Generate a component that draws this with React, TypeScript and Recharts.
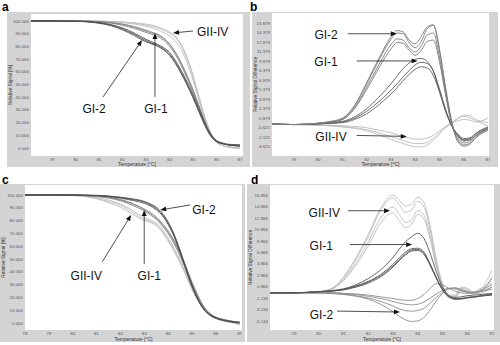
import React from 'react'
import { LineChart, Line, XAxis, YAxis, CartesianGrid, ReferenceLine } from 'recharts'

const FONT = '"Liberation Sans", Arial, sans-serif'
const PANEL_BG = '#d4d4d4'

// sample temperatures (°C), shared by all four panels
const TEMPS = [78, 79, 80, 80.5, 81, 81.5, 82, 82.5, 83, 83.25, 83.5, 83.75, 84, 84.25, 84.5, 84.75, 85, 85.25, 85.5, 85.75, 86, 86.25, 86.5, 87]

const X_TICKS_AB = [79, 80, 81, 82, 83, 84, 85, 86, 87]
const X_TICKS_C = [78, 79, 80, 81, 82, 83, 84, 85, 86, 87]
const X_TICKS_D = [79, 80, 81, 82, 83, 84, 85, 86, 87]
const PCT_TICKS = [0, 10, 20, 30, 40, 50, 60, 70, 80, 90, 100]
const DIFF_TICKS_B = [-3.621, -2.121, -0.621, 0.879, 2.379, 3.879, 5.379, 6.879, 8.379, 9.879, 11.379, 12.879, 14.379, 15.879]
const DIFF_TICKS_D = [-5.134, -3.134, -1.134, 0.866, 2.866, 4.866, 6.866, 8.866, 10.866, 12.866, 14.866, 16.866]

// panel a - melting curves (relative signal %)
const A_GI2_1 = [100, 100, 99.8, 99.4, 98.5, 96.8, 93.8, 89.5, 84.5, 82.5, 80.8, 78, 74, 67.5, 59.5, 50.5, 40.5, 29.5, 18.5, 9.8, 5.3, 3.5, 2.5, 1.5]
const A_GI2_2 = [100, 100, 99.8, 99.3, 98.2, 96.3, 93, 88.5, 83.5, 81.8, 80, 77.2, 73, 66.5, 58.5, 49.5, 39.5, 28.5, 18, 9.5, 5, 3.5, 2.5, 2]
const A_GI2_3 = [100, 100, 99.9, 99.5, 98.7, 97.2, 94.5, 90.5, 85.5, 83.5, 81.5, 79, 75.2, 69, 61, 52, 42, 31, 20, 11, 6, 4, 3, 2.5]
const A_GI1_1 = [100, 100, 100, 99.8, 99.4, 98.6, 97.2, 95, 92, 90.5, 89, 86, 81.5, 75, 66.5, 56.5, 45.5, 33.5, 21, 11, 5.5, 3.5, 2.5, 1.5]
const A_GI1_2 = [100, 100, 100, 99.8, 99.3, 98.3, 96.6, 94.2, 91, 89.5, 87.8, 84.8, 80, 73.5, 65, 55, 44, 32, 20, 10.5, 5, 3.5, 2.5, 2]
const A_GI1_3 = [100, 100, 100, 99.9, 99.5, 98.8, 97.6, 95.6, 92.8, 91.2, 89.6, 86.6, 82, 75.5, 67, 57, 46, 33.5, 20.5, 11, 5.5, 3.5, 2.5, 1.5]
const A_GII_1 = [100, 100, 100, 100, 99.8, 99.5, 99, 98.2, 96.8, 95.8, 94.5, 92.6, 90.5, 87, 80.5, 70, 56, 39.5, 24, 12, 5, 2, 1, 0]
const A_GII_2 = [100, 100, 100, 100, 99.9, 99.6, 99.2, 98.6, 97.6, 96.8, 95.5, 93.8, 91.5, 88, 81.5, 71.5, 57.5, 41, 25, 12.5, 5, 2, 0.5, -0.5]
const A_GII_3 = [100, 100, 100, 100, 99.8, 99.4, 98.7, 97.6, 95.8, 94.6, 92.8, 90.8, 88.2, 84, 77.5, 67, 53.5, 38, 23, 11.5, 4.5, 2, 1, 0.5]

// panel b - difference plots
const B_GI2_1 = [0, -0.1, 0.1, 0.3, 0.8, 2.8, 6.3, 10, 13.3, 14.3, 14.2, 12.8, 12, 13, 15, 15.5, 11.5, 5.5, 0.3, -2.5, -3.3, -3, -2, -0.8]
const B_GI2_2 = [0, -0.1, 0.1, 0.3, 0.7, 2.5, 5.8, 9.3, 12.5, 13.4, 13.2, 12, 11.3, 12.3, 14, 14.3, 10.5, 5, 0, -2.3, -3, -2.7, -1.8, -0.6]
const B_GI2_3 = [0, -0.1, 0.1, 0.3, 0.7, 2.4, 5.4, 8.8, 11.8, 12.8, 12.7, 11.6, 10.8, 11.6, 13, 13.2, 9.8, 4.6, 0, -2, -2.7, -2.4, -1.5, -0.5]
const B_GI2_4 = [0, -0.1, 0.1, 0.4, 0.9, 2.9, 6.5, 10.3, 13.7, 14.7, 14.5, 13.2, 12.6, 13.8, 15.3, 15.6, 11.8, 5.8, 0.5, -2.8, -3.5, -3.2, -2.2, -1]
const B_GI1_1 = [0, -0.1, 0, 0.1, 0.3, 0.9, 2, 3.5, 5.3, 6.3, 7.4, 8.4, 9.3, 9.7, 9.5, 8.3, 5.5, 2.3, -0.3, -1.8, -2.6, -2.5, -1.8, -0.8]
const B_GI1_2 = [0, -0.1, 0, 0.1, 0.2, 0.7, 1.6, 3, 4.7, 5.7, 6.8, 7.8, 8.6, 9, 8.8, 7.6, 5, 2, -0.3, -1.6, -2.3, -2.2, -1.5, -0.6]
const B_GI1_3 = [0, -0.1, 0, 0.2, 0.4, 1.1, 2.4, 4.2, 6.3, 7.5, 8.7, 9.6, 10.2, 10.3, 9.8, 8.3, 5.3, 2.1, -0.2, -1.7, -2.5, -2.3, -1.5, -0.5]
const B_GII_1 = [0, -0.1, -0.2, -0.3, -0.4, -0.6, -0.9, -1.4, -2, -2.3, -2.6, -2.9, -3.1, -3.1, -2.9, -2.3, -1.4, -0.5, 0.2, 0.8, 1.2, 1, 0.5, -0.3]
const B_GII_2 = [0, -0.1, -0.15, -0.2, -0.3, -0.4, -0.6, -1, -1.4, -1.7, -2, -2.2, -2.4, -2.4, -2.2, -1.8, -1.1, -0.4, 0.1, 0.5, 0.7, 0.6, 0.3, 0.9]
const B_GII_3 = [0, -0.1, -0.2, -0.3, -0.5, -0.7, -1.1, -1.7, -2.4, -2.8, -3.1, -3.4, -3.6, -3.6, -3.3, -2.6, -1.6, -0.6, 0.1, 0.9, 1.4, 1.3, 0.7, 0.2]

// panel c - melting curves
const C_GII_1 = [100, 100, 99.6, 99, 97.5, 95, 92, 86.5, 81, 79.5, 77, 72, 65, 57, 48, 38, 27, 19, 11.5, 7, 4.5, 3, 2, 0]
const C_GII_2 = [100, 100, 99.7, 99.2, 98, 96, 93, 88, 82.5, 80.5, 78, 73.5, 66.5, 58.5, 49.5, 39, 28, 19.5, 12, 7.5, 4.5, 3, 1.5, -1]
const C_GII_3 = [100, 100, 99.5, 98.8, 97, 94, 90.5, 85, 80, 78.5, 76, 71, 64, 56, 47, 37, 26, 18, 11, 6.5, 4, 2.5, 1.5, -1.5]
const C_GI1_1 = [100, 100, 99.9, 99.6, 99, 98, 96, 93, 88.5, 85.5, 82, 77, 71, 63.5, 54, 43, 31, 21, 12.5, 7.5, 4.5, 3, 2, 0.5]
const C_GI1_2 = [100, 100, 99.9, 99.7, 99.2, 98.3, 96.5, 93.5, 89, 86.5, 83, 78, 72, 64.5, 55, 44, 32, 21.5, 12.5, 7.5, 4.5, 3, 2, 0]
const C_GI1_3 = [100, 100, 99.8, 99.5, 98.8, 97.6, 95.5, 92, 87.5, 84.5, 81, 76, 70, 62, 52.5, 41.5, 30, 20, 12, 7, 4, 2.5, 1.5, 0]
const C_GI2_1 = [100, 100, 100, 99.9, 99.6, 99, 98, 96.5, 94.5, 92.5, 89.5, 85, 78, 68.5, 56, 42.5, 29, 18.5, 10.5, 6.5, 4, 2.5, 1.5, 0.5]
const C_GI2_2 = [100, 100, 100, 99.9, 99.7, 99.2, 98.3, 97, 95, 93, 90.5, 86, 79, 69.5, 57, 43.5, 30, 19, 11, 6.5, 4, 2.5, 1.5, 0.5]
const C_GI2_3 = [100, 100, 100, 99.8, 99.5, 98.8, 97.5, 95.8, 93.5, 91.5, 88.5, 84, 77, 67.5, 55, 41.5, 28.5, 18, 10.5, 6, 3.5, 2, 1, 0]

// panel d - difference plots
const D_GII_1 = [-0.2, -0.2, 0, 0.5, 2.4, 5.6, 9.6, 14.2, 16.4, 15.2, 13.9, 14.3, 15.8, 14.8, 10.8, 5.2, 1.2, -0.8, -0.8, 0.6, 0.4, -0.2, 0.2, 3.8]
const D_GII_2 = [-0.2, -0.2, 0, 0.4, 2.1, 5, 8.7, 12.9, 14.8, 13.5, 12.1, 12.6, 14.2, 13.4, 9.8, 4.7, 1, -0.9, -0.9, 0.3, 0.2, -0.3, 0, 2.2]
const D_GII_3 = [-0.2, -0.2, 0, 0.4, 1.9, 4.6, 8, 12, 13.8, 12.4, 11.2, 11.8, 13.5, 12.7, 9.2, 4.3, 0.8, -1, -1, 0, 0, -0.4, -0.3, 0.8]
const D_GII_4 = [-0.2, -0.2, 0, 0.5, 2.6, 5.9, 10, 14.6, 16.9, 16, 15, 15.3, 16.5, 15.6, 11.5, 5.6, 1.4, -0.6, -0.6, 0.8, 0.6, 0, 0.5, 1.5]
const D_GI1_1 = [-0.2, -0.2, 0, 0.1, 0.4, 1, 1.8, 3, 4.8, 5.9, 6.9, 7.5, 7.6, 6.9, 4.9, 2.5, 0.4, -0.8, -1.2, -1.2, -1, -0.9, -0.8, -0.5]
const D_GI1_2 = [-0.2, -0.2, 0, 0.1, 0.3, 0.8, 1.5, 2.6, 4.3, 5.4, 6.4, 7.1, 7.2, 6.5, 4.6, 2.3, 0.3, -0.8, -1.3, -1.3, -1.1, -1, -0.8, -0.6]
const D_GI1_3 = [-0.2, -0.2, 0, 0.2, 0.5, 1.2, 2.3, 3.8, 6, 7.4, 8.7, 9.6, 10.2, 9.3, 6.7, 3.5, 0.8, -0.6, -1, -0.9, -0.7, -0.6, -0.5, -0.3]
const D_GI1_4 = [-0.2, -0.2, 0, 0.1, 0.4, 0.9, 1.7, 2.8, 4.5, 5.6, 6.6, 7.3, 7.4, 6.7, 4.7, 2.4, 0.3, -0.9, -1.3, -1.2, -1, -0.9, -0.7, -0.4]
const D_GI2_1 = [-0.2, -0.2, -0.2, -0.3, -0.5, -0.8, -1.3, -2.2, -3.5, -4.3, -4.9, -5.2, -5.1, -4.5, -3.2, -1.6, -0.3, 0.5, 0.6, 0.3, -0.1, -0.2, 0, 0.8]
const D_GI2_2 = [-0.2, -0.2, -0.2, -0.3, -0.4, -0.7, -1.1, -1.7, -2.5, -3, -3.3, -3.4, -3.3, -2.9, -2, -1, -0.1, 0.5, 0.7, 0.4, 0, -0.1, 0.2, 1.2]
const D_GI2_3 = [-0.2, -0.2, -0.2, -0.2, -0.3, -0.5, -0.8, -1.2, -1.7, -2, -2.2, -2.3, -2.2, -1.8, -1.1, -0.4, 0.2, 0.6, 0.5, 0.2, -0.1, -0.2, 0, 2.5]
const D_GI2_4 = [-0.2, -0.2, -0.2, -0.2, -0.3, -0.4, -0.6, -0.9, -1.2, -1.4, -1.5, -1.5, -1.2, -0.5, 0.6, 1.4, 1.2, 0.6, 0.1, -0.2, -0.3, -0.2, 0, 0.4]

type Series = { key: string; values: number[]; color: string }
type Note = { text: string; from: [number, number]; to: [number, number]; dx: number; dy: number; anchor: 'start' | 'middle' | 'end' }

const LIGHT = '#bcbcbc'
const MID = '#858585'
const DARK = '#4d4d4d'

function arrowShape(note: Note) {
  return (p: any) => {
    const { x1, y1, x2, y2 } = p
    if (![x1, y1, x2, y2].every((n) => Number.isFinite(n))) return <g />
    const ang = Math.atan2(y2 - y1, x2 - x1)
    const len = 6
    const half = 2.4
    const bx = x2 - len * Math.cos(ang)
    const by = y2 - len * Math.sin(ang)
    const pts = [
      [x2, y2],
      [bx + half * Math.sin(ang), by - half * Math.cos(ang)],
      [bx - half * Math.sin(ang), by + half * Math.cos(ang)],
    ]
    return (
      <g>
        <line x1={x1} y1={y1} x2={bx} y2={by} stroke="#222" strokeWidth={0.8} />
        <polygon points={pts.map((q) => q.join(',')).join(' ')} fill="#111" />
        <text x={x1 + note.dx} y={y1 + note.dy} textAnchor={note.anchor} fontSize={12} fill="#111">
          {note.text}
        </text>
      </g>
    )
  }
}

interface PanelProps {
  letter: string
  letterAt: { x: number; y: number }
  box: { x: number; y: number; w: number; h: number }
  margin: { top: number; right: number; bottom: number; left: number }
  yWidth: number
  xHeight: number
  xDomain: [number, number]
  xTicks: number[]
  yDomain: [number, number]
  yTicks: number[]
  yLabel: string
  series: Series[]
  notes: Note[]
}

function Panel({ letter, letterAt, box, margin, yWidth, xHeight, xDomain, xTicks, yDomain, yTicks, yLabel, series, notes }: PanelProps) {
  const rows = TEMPS.map((t, i) => {
    const r: Record<string, number> = { t }
    series.forEach((s) => (r[s.key] = s.values[i]))
    return r
  })
  const tick = { fontSize: 4.4, fill: '#555' }
  return (
    <>
      <div style={{ position: 'absolute', left: letterAt.x, top: letterAt.y, fontSize: 12, fontWeight: 'bold', lineHeight: '14px' }}>
        {letter}
      </div>
      <div style={{ position: 'absolute', left: box.x, top: box.y, width: box.w, height: box.h, background: PANEL_BG }}>
        <LineChart width={box.w} height={box.h} data={rows} margin={margin}>
          <CartesianGrid fill="#ffffff" stroke="none" horizontal={false} vertical={false} />
          <XAxis
            dataKey="t"
            type="number"
            domain={xDomain}
            ticks={xTicks}
            allowDataOverflow
            interval={0}
            height={xHeight}
            tickSize={0}
            tickMargin={2}
            axisLine={false}
            tick={tick}
            label={{ value: 'Temperature [°C]', position: 'insideBottom', offset: 1, fontSize: 5, fill: '#333' }}
          />
          <YAxis
            type="number"
            domain={yDomain}
            ticks={yTicks}
            allowDataOverflow
            interval={0}
            width={yWidth}
            tickSize={0}
            tickMargin={2}
            axisLine={false}
            tick={tick}
            tickFormatter={(v: number) => v.toFixed(3)}
            label={{ value: yLabel, angle: -90, position: 'insideLeft', offset: 3, fontSize: 4.8, fill: '#333', style: { textAnchor: 'middle' } }}
          />
          {series.map((s) => (
            <Line
              key={s.key}
              dataKey={s.key}
              type="monotone"
              stroke={s.color}
              strokeWidth={0.9}
              dot={false}
              isAnimationActive={false}
            />
          ))}
          {notes.map((n) => (
            <ReferenceLine
              key={n.text}
              segment={[{ x: n.from[0], y: n.from[1] }, { x: n.to[0], y: n.to[1] }]}
              ifOverflow="visible"
              shape={arrowShape(n)}
            />
          ))}
        </LineChart>
      </div>
    </>
  )
}

export default function App() {
  return (
    <div style={{ position: 'fixed', left: 0, top: 0, width: 500, height: 345, background: '#fff', fontFamily: FONT, overflow: 'hidden' }}>
      <Panel
        letter="a"
        letterAt={{ x: 2, y: 0 }}
        box={{ x: 7, y: 12, w: 243, h: 155 }}
        margin={{ top: 2, right: 7, bottom: 0, left: 0 }}
        yWidth={24}
        xHeight={11}
        xDomain={[78.1, 87.13]}
        xTicks={X_TICKS_AB}
        yDomain={[-6.3, 105.5]}
        yTicks={PCT_TICKS}
        yLabel="Relative Signal [%]"
        series={[
          { key: 'gii1', values: A_GII_1, color: LIGHT },
          { key: 'gii2', values: A_GII_2, color: LIGHT },
          { key: 'gii3', values: A_GII_3, color: LIGHT },
          { key: 'gi1a', values: A_GI1_1, color: MID },
          { key: 'gi1b', values: A_GI1_2, color: MID },
          { key: 'gi1c', values: A_GI1_3, color: MID },
          { key: 'gi2a', values: A_GI2_1, color: DARK },
          { key: 'gi2b', values: A_GI2_2, color: DARK },
          { key: 'gi2c', values: A_GI2_3, color: DARK },
        ]}
        notes={[
          { text: 'GII-IV', from: [85.0, 92.1], to: [84.15, 90.6], dx: 4, dy: 5, anchor: 'start' },
          { text: 'GI-2', from: [81.17, 40.2], to: [82.83, 85], dx: -9, dy: 16, anchor: 'middle' },
          { text: 'GI-1', from: [83.38, 40.2], to: [83.38, 90.6], dx: 1, dy: 16, anchor: 'middle' },
        ]}
      />
      <Panel
        letter="b"
        letterAt={{ x: 250, y: 0 }}
        box={{ x: 252, y: 12, w: 246, h: 155 }}
        margin={{ top: 1, right: 9, bottom: 0, left: 0 }}
        yWidth={20}
        xHeight={11}
        xDomain={[78.1, 87.04]}
        xTicks={X_TICKS_AB}
        yDomain={[-5.05, 17.46]}
        yTicks={DIFF_TICKS_B}
        yLabel="Relative Signal Difference"
        series={[
          { key: 'gii1', values: B_GII_1, color: LIGHT },
          { key: 'gii2', values: B_GII_2, color: LIGHT },
          { key: 'gii3', values: B_GII_3, color: LIGHT },
          { key: 'gi1a', values: B_GI1_1, color: '#5c5c5c' },
          { key: 'gi1b', values: B_GI1_2, color: '#5c5c5c' },
          { key: 'gi1c', values: B_GI1_3, color: '#5c5c5c' },
          { key: 'gi2a', values: B_GI2_1, color: '#7a7a7a' },
          { key: 'gi2b', values: B_GI2_2, color: '#7a7a7a' },
          { key: 'gi2c', values: B_GI2_3, color: '#7a7a7a' },
          { key: 'gi2d', values: B_GI2_4, color: '#7a7a7a' },
        ]}
        notes={[
          { text: 'GI-2', from: [81.22, 14.19], to: [83.24, 14.19], dx: -10, dy: 5, anchor: 'end' },
          { text: 'GI-1', from: [81.59, 9.91], to: [84.1, 9.91], dx: -19, dy: 5, anchor: 'end' },
          { text: 'GII-IV', from: [81.59, -1.81], to: [83.65, -1.97], dx: -10, dy: 6, anchor: 'end' },
        ]}
      />
      <Panel
        letter="c"
        letterAt={{ x: 2, y: 173 }}
        box={{ x: 0, y: 184, w: 245, h: 158 }}
        margin={{ top: 1, right: 3, bottom: 0, left: 0 }}
        yWidth={25}
        xHeight={12}
        xDomain={[78, 87.1]}
        xTicks={X_TICKS_C}
        yDomain={[-5.5, 107.8]}
        yTicks={PCT_TICKS}
        yLabel="Relative Signal [%]"
        series={[
          { key: 'gii1', values: C_GII_1, color: LIGHT },
          { key: 'gii2', values: C_GII_2, color: LIGHT },
          { key: 'gii3', values: C_GII_3, color: LIGHT },
          { key: 'gi1a', values: C_GI1_1, color: MID },
          { key: 'gi1b', values: C_GI1_2, color: MID },
          { key: 'gi1c', values: C_GI1_3, color: MID },
          { key: 'gi2a', values: C_GI2_1, color: DARK },
          { key: 'gi2b', values: C_GI2_2, color: DARK },
          { key: 'gi2c', values: C_GI2_3, color: DARK },
        ]}
        notes={[
          { text: 'GI-2', from: [84.93, 92.2], to: [83.67, 88.3], dx: 2, dy: 9, anchor: 'start' },
          { text: 'GI-1', from: [83.0, 46.1], to: [83.0, 88.3], dx: 5, dy: 16, anchor: 'middle' },
          { text: 'GII-IV', from: [81.24, 47.7], to: [82.45, 84.4], dx: -16, dy: 18, anchor: 'middle' },
        ]}
      />
      <Panel
        letter="d"
        letterAt={{ x: 251, y: 173 }}
        box={{ x: 247, y: 184, w: 253, h: 158 }}
        margin={{ top: 1, right: 6, bottom: 0, left: 0 }}
        yWidth={23}
        xHeight={12}
        xDomain={[78.03, 87.08]}
        xTicks={X_TICKS_D}
        yDomain={[-6.7, 18.65]}
        yTicks={DIFF_TICKS_D}
        yLabel="Relative Signal Difference"
        series={[
          { key: 'gii1', values: D_GII_1, color: LIGHT },
          { key: 'gii2', values: D_GII_2, color: LIGHT },
          { key: 'gii3', values: D_GII_3, color: LIGHT },
          { key: 'gii4', values: D_GII_4, color: LIGHT },
          { key: 'gi2a', values: D_GI2_1, color: '#8c8c8c' },
          { key: 'gi2b', values: D_GI2_2, color: '#8c8c8c' },
          { key: 'gi2c', values: D_GI2_3, color: '#8c8c8c' },
          { key: 'gi2d', values: D_GI2_4, color: '#8c8c8c' },
          { key: 'gi1a', values: D_GI1_1, color: '#555555' },
          { key: 'gi1b', values: D_GI1_2, color: '#555555' },
          { key: 'gi1c', values: D_GI1_3, color: '#555555' },
          { key: 'gi1d', values: D_GI1_4, color: '#555555' },
        ]}
        notes={[
          { text: 'GII-IV', from: [81.18, 14.15], to: [82.88, 14.15], dx: -8, dy: 6, anchor: 'end' },
          { text: 'GI-1', from: [81.26, 8.24], to: [83.77, 8.24], dx: -17, dy: 5, anchor: 'end' },
          { text: 'GI-2', from: [80.74, -3.39], to: [83.28, -3.56], dx: -4, dy: 8, anchor: 'end' },
        ]}
      />
    </div>
  )
}
